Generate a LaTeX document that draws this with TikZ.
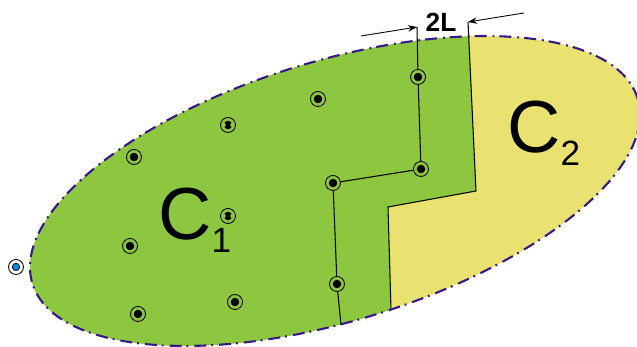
\documentclass[tikz,border=0pt]{standalone}
\usepackage{fontspec}
\setmainfont{Liberation Sans}
\usepackage{xcolor}
\usetikzlibrary{arrows.meta}

\definecolor{regone}{RGB}{141,198,63}
\definecolor{regtwo}{RGB}{233,226,112}
\definecolor{rim}{RGB}{55,25,140}
\definecolor{srcblue}{RGB}{0,140,210}

\begin{document}
\begin{tikzpicture}[
    x=0.02cm, y=0.02cm,
    >={Stealth[length=1.8mm, width=1.3mm]},
    site/.style={circle, draw, line width=0.5pt, minimum size=0.3cm, inner sep=0pt,
        path picture={\fill (path picture bounding box.center) circle[radius=0.085cm];}},
    hsite/.style={circle, draw, line width=0.5pt, minimum size=0.3cm, inner sep=0pt,
        path picture={\fill (path picture bounding box.center) circle[radius=0.085cm];
            \fill[regone, shift={(path picture bounding box.center)}]
                (-0.09cm,0) circle[radius=0.045cm] (0.09cm,0) circle[radius=0.045cm];}},
    src/.style={circle, draw, line width=0.5pt, minimum size=0.3cm, inner sep=0pt,
        path picture={\filldraw[fill=srcblue, line width=0.4pt] (path picture bounding box.center) circle[radius=0.075cm];}},
    link/.style={line width=0.6pt},
    rimline/.style={draw=rim, line width=1.2pt, dash pattern=on 6.8pt off 2.8pt on 1.1pt off 3.4pt},
    lbl/.style={inner sep=0pt}
]
    \useasboundingbox (0,0) rectangle (637,347);
    \clip (0,0) rectangle (637,347);

    % regions
    \fill[regtwo] (335,156) ellipse [x radius=6.33cm, y radius=2.6cm, rotate=17];
    \begin{scope}
        \clip (-5,-5) -- (-5,352) -- (467,352) -- (476,156) -- (388,140) -- (392,-5) -- cycle;
        \fill[regone] (335,156) ellipse [x radius=6.33cm, y radius=2.6cm, rotate=17];
    \end{scope}

    % border between C1 and C2
    \coordinate (b0) at (468,325);
    \coordinate (b1) at (476,156);
    \coordinate (b2) at (388,140);
    \coordinate (b3) at (391,37);
    \draw[link] (b0) -- (b1) -- (b2) -- (b3);

    \draw[rimline] (335,156) ellipse [x radius=6.33cm, y radius=2.6cm, rotate=17];

    % sites
    \node[site] (s1) at (418,270) {};
    \node[site] (s2) at (318,248) {};
    \node[hsite] (h1) at (228,222) {};
    \node[site] (s3) at (134,190) {};
    \node[site] (s4) at (421,178) {};
    \node[site] (s5) at (333,164) {};
    \node[hsite] (h2) at (228,131) {};
    \node[site] (s6) at (130,101) {};
    \node[site] (s7) at (337,63) {};
    \node[site] (s8) at (235,45) {};
    \node[site] (s9) at (138,33) {};
    \node[src] (q0) at (16,80) {};

    \coordinate (top) at (417,320);
    \coordinate (bot) at (341,22);
    \draw[link] (top) -- (s1) -- (s4) -- (s5) -- (s7) -- (bot);

    % width 2L
    \coordinate (dl) at (361,311);
    \coordinate (dr) at (524,334);
    \draw[->, line width=0.5pt] (dl) -- (top);
    \draw[->, line width=0.5pt] (dr) -- (b0);
    \node[lbl, font=\bfseries\fontsize{15}{15}\selectfont] (wl) at (441,325) {2L};

    \node[lbl, anchor=base west] (cone) at (158,107)
        {\fontsize{42}{42}\selectfont C\raisebox{-7.4pt}{\fontsize{20}{20}\selectfont 1}};
    \node[lbl, anchor=base west] (ctwo) at (507,194)
        {\fontsize{42}{42}\selectfont C\raisebox{-7.4pt}{\fontsize{20}{20}\selectfont 2}};
\end{tikzpicture}
\end{document}
